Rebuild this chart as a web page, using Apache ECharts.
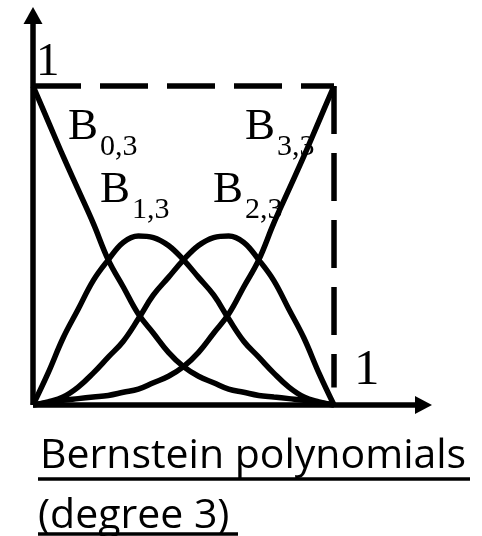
<!DOCTYPE html>
<html>
<head>
<meta charset="utf-8">
<script src="https://cdn.jsdelivr.net/npm/echarts@6/dist/echarts.min.js"></script>
<style>
  html, body { margin: 0; padding: 0; background: #fff; }
  #chart { width: 482px; height: 536px; }
</style>
</head>
<body>
<div id="chart"></div>
<script>
// parameter t along the x axis
const tValues = [0, 0.05, 0.1, 0.15, 0.2, 0.25, 0.3, 0.35, 0.4, 0.45, 0.5,
  0.55, 0.6, 0.65, 0.7, 0.75, 0.8, 0.85, 0.9, 0.95, 1]

// values
const b03 = [1.0, 0.89, 0.78, 0.675, 0.57, 0.455, 0.37, 0.285, 0.225, 0.165, 0.12,
  0.09, 0.07, 0.05, 0.04, 0.03, 0.025, 0.02, 0.015, 0.007, 0]
const b13 = [0, 0.1, 0.21, 0.3, 0.39, 0.455, 0.51, 0.53, 0.525, 0.5, 0.455,
  0.4, 0.345, 0.27, 0.2, 0.15, 0.1, 0.056, 0.025, 0.01, 0]
const b23 = [0, 0.01, 0.025, 0.056, 0.1, 0.15, 0.2, 0.27, 0.345, 0.4, 0.455,
  0.5, 0.525, 0.53, 0.51, 0.455, 0.39, 0.3, 0.21, 0.1, 0]
const b33 = [0, 0.007, 0.015, 0.02, 0.025, 0.03, 0.04, 0.05, 0.07, 0.09, 0.12,
  0.165, 0.225, 0.285, 0.37, 0.455, 0.57, 0.675, 0.78, 0.89, 1.0]

// unit box drawn dashed
const boxTop = [[0, 1], [1, 1]]
const boxRight = [[1, 1], [1, 0.055]]

const curveNames = ['B0,3', 'B1,3', 'B2,3', 'B3,3']
const curveValues = [b03, b13, b23, b33]

const INK = '#000'
const LW = 5.5
const SERIF = '"Liberation Serif", "DejaVu Serif", serif'
const SANS = '"Open Sans", Lato, sans-serif'

const chart = echarts.init(document.getElementById('chart'), null, { renderer: 'canvas' })

function toPairs(vals) {
  return tValues.map((t, i) => [t, vals[i]])
}

const axisLine = (size) => ({
  show: true,
  symbol: ['none', 'triangle'],
  symbolSize: size,
  lineStyle: { color: INK, width: LW, cap: 'butt' },
})

const curveSeries = curveNames.map((name, i) => ({
  name,
  type: 'line',
  data: toPairs(curveValues[i]),
  smooth: 0.4,
  showSymbol: false,
  lineStyle: { color: INK, width: LW },
  z: 3,
}))

const dashSeries = [boxTop, boxRight].map((d) => ({
  type: 'line',
  data: d,
  showSymbol: false,
  lineStyle: { color: INK, width: LW, type: [48, 19], cap: 'butt' },
  z: 3,
}))

// "B" + subscript, placed by baseline
function label(x, yBase, main, sub) {
  return [
    { type: 'text', x, y: yBase, z: 1,
      style: { text: main, font: '45px ' + SERIF, fill: INK, verticalAlign: 'bottom' } },
    { type: 'text', x: x + 32, y: yBase + 12, z: 1,
      style: { text: sub, font: '30px ' + SERIF, fill: INK, verticalAlign: 'bottom' } },
  ]
}

const graphics = [
  ...label(68, 150, 'B', '0,3'),
  ...label(100, 213, 'B', '1,3'),
  ...label(213, 213, 'B', '2,3'),
  ...label(245, 150, 'B', '3,3'),
  { type: 'text', x: 36, y: 86, z: 1,
    style: { text: '1', font: '47px ' + SERIF, fill: INK, verticalAlign: 'bottom' } },
  { type: 'text', x: 354, y: 396, z: 1,
    style: { text: '1', font: '51px ' + SERIF, fill: INK, verticalAlign: 'bottom' } },
  { type: 'text', x: 40, y: 477, z: 1,
    style: { text: 'Bernstein polynomials', font: '41px ' + SANS, fill: INK, verticalAlign: 'bottom' } },
  { type: 'line', z: 1, shape: { x1: 38, y1: 479, x2: 470, y2: 479 },
    style: { stroke: INK, lineWidth: 3.5 } },
  { type: 'text', x: 38, y: 537, z: 1,
    style: { text: '(degree 3)', font: '41px ' + SANS, fill: INK, verticalAlign: 'bottom' } },
  { type: 'line', z: 1, shape: { x1: 38, y1: 534, x2: 238, y2: 534 },
    style: { stroke: INK, lineWidth: 3.5 } },
]

chart.setOption({
  animation: false,
  backgroundColor: '#fff',
  grid: { left: 33, right: 58.5, top: 15.5, bottom: 131, containLabel: false },
  xAxis: {
    type: 'value',
    min: 0,
    max: 1.2973,
    axisLine: axisLine([18, 17]),
    axisTick: { show: false },
    axisLabel: { show: false },
    splitLine: { show: false },
  },
  yAxis: {
    type: 'value',
    min: 0,
    max: 1.221,
    axisLine: axisLine([19, 17]),
    axisTick: { show: false },
    axisLabel: { show: false },
    splitLine: { show: false },
  },
  series: [...dashSeries, ...curveSeries],
  graphic: graphics,
})
</script>
</body>
</html>
